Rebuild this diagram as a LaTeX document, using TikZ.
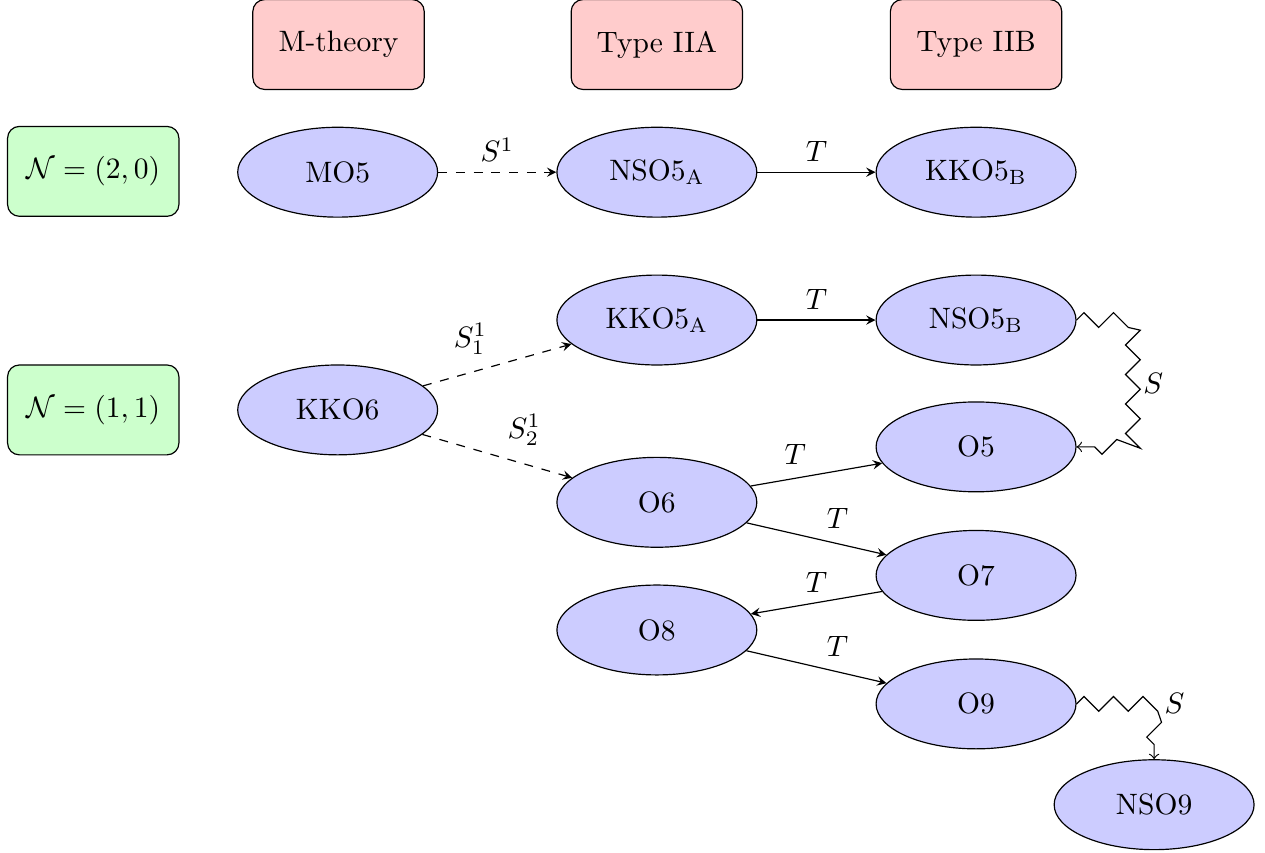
\documentclass[tikz,border=0pt]{standalone}
\usepackage{amsmath}
\usepackage{amssymb}
\usepackage{tikz}
\usetikzlibrary{calc,shapes.geometric,decorations.pathmorphing}

\begin{document}
\begin{tikzpicture}[
    theory/.style={draw, rounded corners, fill=red!20, minimum width=2.04cm, minimum height=1.07cm},
    susy/.style={draw, rounded corners, fill=green!20, minimum width=2.04cm, minimum height=1.07cm},
    brane/.style={draw, ellipse, fill=blue!20, minimum width=2.38cm, minimum height=1.07cm},
    zz/.style={->, decorate, decoration={zigzag, post length=2pt}}
]
            \useasboundingbox (0,0) rectangle (15.06,-10.155);

            \node[theory] (Mth) at (4.03,-0.53) {M-theory};
            \node[theory] (IIA) at (7.82,-0.53) {Type IIA};
            \node[theory] (IIB) at (11.62,-0.53) {Type IIB};

            \node[susy] (N20) at (1.11,-2.04) {\(\mathcal{N}=(2,0)\)};
            \node[susy] (N11) at (1.11,-4.88) {\(\mathcal{N}=(1,1)\)};

            \node[brane] (MO5) at (4.02,-2.05) {MO5};
            \node[brane] (NSO5A) at (7.82,-2.05) {NSO5\(_{\mathrm{A}}\)};
            \node[brane] (KKO5B) at (11.62,-2.05) {KKO5\(_{\mathrm{B}}\)};
            \draw[dashed, -stealth] (MO5) -- (NSO5A) node[midway, above] {\(S^1\)};
            \draw[-stealth] (NSO5A) -- (KKO5B) node[midway, above] {\(T\)};

            \node[brane] (KKO6) at (4.02,-4.88) {KKO6};
            \node[brane] (KKO5A) at (7.82,-3.81) {KKO5\(_{\mathrm{A}}\)};
            \node[brane] (NSO5B) at (11.62,-3.81) {NSO5\(_{\mathrm{B}}\)};
            \node[brane] (O5) at (11.62,-5.32) {O5};
            \node[brane] (O6) at (7.82,-5.98) {O6};
            \node[brane] (O7) at (11.62,-6.85) {O7};
            \node[brane] (O8) at (7.82,-7.5) {O8};
            \node[brane] (O9) at (11.62,-8.38) {O9};
            \node[brane] (NSO9) at (13.74,-9.58) {NSO9};

            \draw[dashed, -stealth] (KKO6) -- (KKO5A) node[midway, above left] {\(S^1_1\)};
            \draw[dashed, -stealth] (KKO6) -- (O6) node[midway, above right] {\(S^1_2\)};
            \draw[-stealth] (KKO5A) -- (NSO5B) node[midway, above] {\(T\)};
            \draw[-stealth] (O6) -- (O5) node[midway, above left] {\(T\)};
            \draw[-stealth] (O6) -- (O7) node[midway, above right] {\(T\)};
            \draw[-stealth] (O7) -- (O8) node[midway, above] {\(T\)};
            \draw[-stealth] (O8) -- (O9) node[midway, above right] {\(T\)};

            \coordinate (c1) at ($(NSO5B.east)+(0.67,0)$);
            \draw[zz] (NSO5B.east) -- (c1) |- (O5.east) node[pos=0.25, right] {\(S\)};
            \draw[zz] (O9) -| (NSO9) node[pos=0.5, right] {\(S\)};
        \end{tikzpicture}
\end{document}
